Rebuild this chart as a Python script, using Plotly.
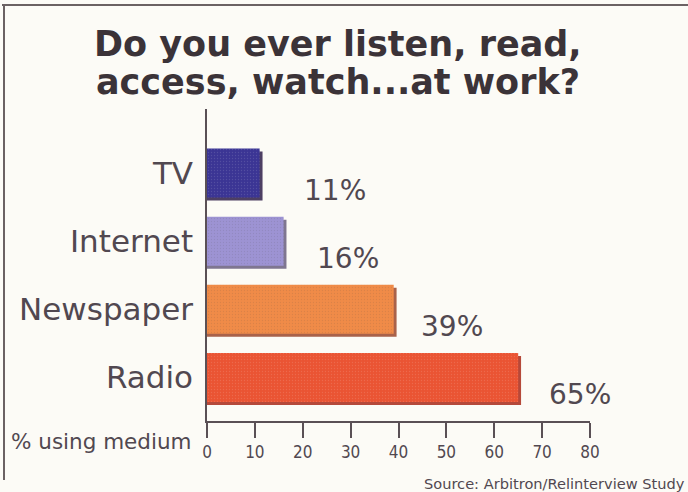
import plotly.graph_objects as go

# ---- data ----
categories = ["TV", "Internet", "Newspaper", "Radio"]
values = [11, 16, 39, 65]
value_labels = ["11%", "16%", "39%", "65%"]
x_ticks = [0, 10, 20, 30, 40, 50, 60, 70, 80]
title_lines = ["Do you ever listen, read,", "access, watch...at work?"]
axis_note = "% using medium"
source_note = "Source: Arbitron/Relinterview Study"

# ---- styles ----
bar_colors = ["#3b3594", "#9d93d3", "#f08b48", "#ea5433"]
shadow_colors = ["#4d3f63", "#7f7690", "#a9624a", "#b5493a"]
label_dx = [42, 31, 25, 29]
text_color = "#514850"
bg = "#fcfbf6"

W, H = 688, 492
L, R, T, B = 207, 98, 109, 71
pw, ph = W - L - R, H - T - B


def px_x(p):
    return (p - L) / pw


def px_y(p):
    return (H - B - p) / ph


fig = go.Figure()

# shadow behind each bar
fig.add_trace(go.Bar(
    y=categories, x=[v + 0.6 for v in values], orientation="h",
    width=0.72, offset=-0.36 + 0.045,
    marker=dict(color=shadow_colors, line=dict(width=0)),
    hoverinfo="skip", showlegend=False,
))
fig.add_trace(go.Bar(
    y=categories, x=values, orientation="h",
    width=0.72, offset=-0.36,
    marker=dict(color=bar_colors, line=dict(width=0),
                pattern=dict(shape=".", size=3, solidity=0.15,
                             fgcolor="#ffffff", fgopacity=0.12)),
    showlegend=False,
))

annotations = []
for cat, v, lab, dx in zip(categories, values, value_labels, label_dx):
    annotations.append(dict(
        x=v, y=cat, xref="x", yref="y", text=lab, showarrow=False,
        xanchor="left", yanchor="middle", xshift=dx, yshift=-17,
        font=dict(family="DejaVu Sans", size=28, color=text_color),
    ))

for i, line in enumerate(title_lines):
    annotations.append(dict(
        x=px_x(338), y=px_y(44 + 38 * i), xref="paper", yref="paper",
        text=line, showarrow=False, xanchor="center", yanchor="middle",
        font=dict(family="DejaVu Sans", size=35, color="#3b3338", weight="bold"),
    ))

annotations.append(dict(
    x=px_x(194), y=px_y(441), xref="paper", yref="paper", text=axis_note,
    showarrow=False, xanchor="right", yanchor="middle",
    font=dict(family="DejaVu Sans", size=21.5, color=text_color),
))
annotations.append(dict(
    x=px_x(422), y=px_y(483), xref="paper", yref="paper", text=source_note,
    showarrow=False, xanchor="left", yanchor="middle",
    font=dict(family="DejaVu Sans", size=14.6, color=text_color),
))

shapes = [
    dict(type="line", xref="paper", yref="paper",
         x0=px_x(2), x1=px_x(688), y0=px_y(5), y1=px_y(5),
         line=dict(color="#6b6263", width=2)),
    dict(type="line", xref="paper", yref="paper",
         x0=px_x(4), x1=px_x(4), y0=px_y(5), y1=px_y(480),
         line=dict(color="#6b6263", width=2)),
]

fig.update_layout(
    width=W, height=H,
    margin=dict(l=L, r=R, t=T, b=B, pad=0),
    paper_bgcolor=bg, plot_bgcolor=bg,
    barmode="overlay",
    annotations=annotations,
    shapes=shapes,
    xaxis=dict(
        range=[0, 80], tickvals=x_ticks, ticktext=[str(t) for t in x_ticks],
        showgrid=False, zeroline=False,
        showline=True, linecolor="#5a5055", linewidth=1.5,
        ticks="outside", ticklen=15, tickwidth=1.5, tickcolor="#5a5055",
        tickfont=dict(family="DejaVu Sans Condensed", size=17, color=text_color),
        fixedrange=True,
    ),
    yaxis=dict(
        categoryorder="array", categoryarray=categories,
        range=[3.64, -0.94],
        showgrid=False, zeroline=False,
        showline=True, linecolor="#5a5055", linewidth=1.5,
        ticks="", ticklabelstandoff=6,
        tickfont=dict(family="DejaVu Sans", size=31, color=text_color),
        fixedrange=True,
    ),
)

fig.write_html(
    "out.html",
    config={"displayModeBar": False},
    post_script="document.body.style.margin='0';document.body.style.overflow='hidden';document.body.style.background='%s';" % bg,
)
